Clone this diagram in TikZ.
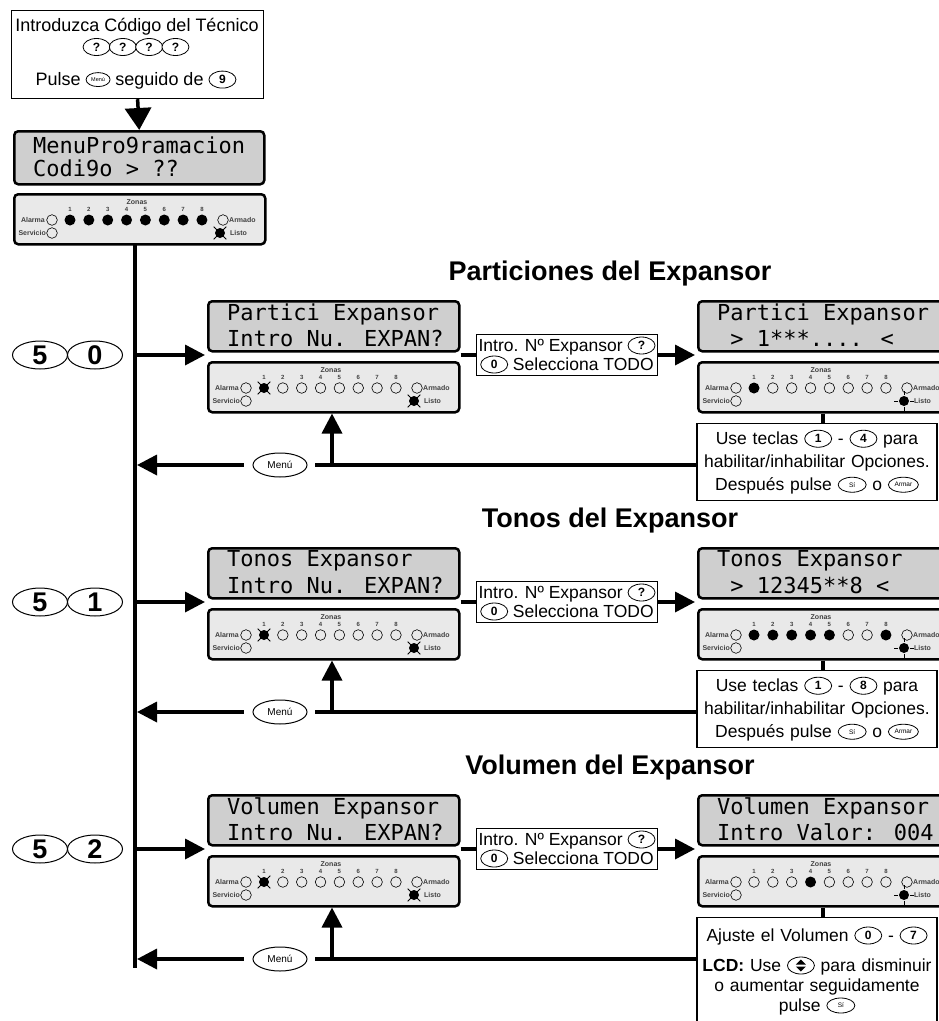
\documentclass[tikz,border=0pt]{standalone}
\usepackage{fontspec}
\setmainfont{Liberation Sans}
\setsansfont{Liberation Sans}
\newfontfamily\lcdfont{DejaVu Sans Mono}
\usetikzlibrary{arrows.meta,shapes.geometric,calc}

\tikzset{
  conn/.style={line width=3.5pt},
  arr/.style={line width=3.5pt,-{Triangle[length=20pt,width=20pt]}},
  bigarr/.style={line width=3.5pt,-{Triangle[length=22pt,width=26pt]}},
  lcdbox/.style={draw,line width=2.5pt,rounded corners=4pt,fill=gray!38},
  ledbox/.style={draw,line width=2.5pt,rounded corners=4pt,fill=gray!17},
  txtbox/.style={draw,line width=1.2pt,fill=white},
  keysh/.style={ellipse,draw,line width=0.8pt,fill=white,inner sep=0pt,minimum width=27pt,minimum height=17pt,font=\bfseries\fontsize{12}{12}\selectfont},
  bigkey/.style={ellipse,draw,line width=1pt,fill=white,inner sep=0pt,minimum width=55pt,minimum height=28pt,font=\bfseries\fontsize{27}{27}\selectfont},
  menukey/.style={ellipse,draw,line width=1pt,fill=white,inner sep=0pt,minimum width=54pt,minimum height=24pt,font=\fontsize{10}{10}\selectfont},
  lcdtext/.style={anchor=west,inner sep=0pt,font=\lcdfont\fontsize{22}{22}\selectfont},
  sectitle/.style={inner sep=0pt,font=\bfseries\fontsize{27}{27}\selectfont},
  bodytxt/.style={inner sep=0pt,font=\fontsize{17.5}{21}\selectfont},
  introtxt/.style={font=\fontsize{17.5}{19}\selectfont},
  ledlab/.style={inner sep=0pt,text=black!75,font=\bfseries\fontsize{7}{7}\selectfont},
}

\newcommand\dkey[1]{\tikz[x=1pt,y=1pt,baseline={([yshift=-6pt]K.center)}]\node[keysh] (K) {#1};}
\newcommand\skey[2][28]{\tikz[x=1pt,y=1pt,baseline={([yshift=-6pt]K.center)}]\node[keysh,minimum width=#1pt,minimum height=15pt,font=\fontsize{6.5}{6.5}\selectfont] (K) {#2};}
\newcommand\mkey{\tikz[x=1pt,y=1pt,baseline={([yshift=-6pt]K.center)}]\node[keysh,minimum width=24pt,minimum height=14pt,font=\fontsize{5.5}{5.5}\selectfont] (K) {Menú};}
\newcommand\udkey{\tikz[x=1pt,y=1pt,baseline={([yshift=-6pt]K.center)}]{\node[keysh] (K) {};
  \fill ([shift={(-5,1)}]K.center) -- ([shift={(5,1)}]K.center) -- ([shift={(0,6)}]K.center) -- cycle;
  \fill ([shift={(-5,-1)}]K.center) -- ([shift={(5,-1)}]K.center) -- ([shift={(0,-6)}]K.center) -- cycle;}}

\newcommand\drawLED[3]{%
  \if#1o\draw[line width=0.6pt] (#2,#3) circle (5.3pt);\fi
  \if#1f\fill (#2,#3) circle (5.5pt);\fi
  \if#1x\fill (#2,#3) circle (5pt);\foreach \a in {45,135,225,315}{\draw[line width=0.8pt,shift={(#2,#3)}] (\a:4pt) -- (\a:9pt);}\fi
  \if#1s\fill (#2,#3) circle (5pt);\foreach \a in {0,90,180,270}{\draw[line width=0.8pt,shift={(#2,#3)}] (\a:6pt) -- (\a:10pt);}\fi
}

\newcommand\LEDpanel[5]{%
  \node[ledbox,anchor=north west,minimum width=251pt,minimum height=50pt,inner sep=0pt] (#1) at (#2,#3) {};
  \pgfmathsetmacro\PX{#2}\pgfmathsetmacro\PY{#3}%
  \node[ledlab] (#1z) at (\PX+124,\PY+9) {Zonas};
  \node[ledlab,anchor=east] (#1al) at (\PX+32,\PY+27) {Alarma};
  \drawLED{o}{\PX+39}{\PY+27}
  \node[ledlab,anchor=west] (#1ar) at (\PX+216,\PY+27) {Armado};
  \drawLED{o}{\PX+210}{\PY+27}
  \node[ledlab,anchor=east] (#1sv) at (\PX+33,\PY+40) {Servicio};
  \drawLED{o}{\PX+39}{\PY+40}
  \node[ledlab,anchor=west] (#1ls) at (\PX+217,\PY+40) {Listo};
  \drawLED{#5}{\PX+207}{\PY+40}
  \foreach \s [count=\i] in {#4} {%
    \pgfmathsetmacro\LX{\PX+57+18.85*(\i-1)}%
    \node[ledlab,font=\bfseries\fontsize{6}{6}\selectfont] (#1n\i) at (\LX,\PY+16) {\i};
    \drawLED{\s}{\LX}{\PY+27}
  }%
}

\newcommand\DrawSection[8]{%
  \pgfmathsetmacro\Lb{#2}%
  \pgfmathsetmacro\Ltop{\Lb-50}%
  \pgfmathsetmacro\Ctop{\Lb-111}%
  \pgfmathsetmacro\Ya{\Lb-97}%
  \pgfmathsetmacro\Yb{\Lb-73}%
  \pgfmathsetmacro\Ym{\Lb-56}%
  \pgfmathsetmacro\Yt{\Lb-137}%
  \pgfmathsetmacro\Ymenu{\Lb+54}%
  \pgfmathsetmacro\Ytb{\Lb+12}%
  \node[sectitle] (#1title) at (610,\Yt) {#3};
  \node[lcdbox,anchor=north west,minimum width=251pt,minimum height=50pt,inner sep=0pt] (#1lcdL) at (207,\Ctop) {};
  \node[lcdtext] (#1lcdLa) at (227,\Ya) {#4};
  \node[lcdtext] (#1lcdLb) at (227,\Yb) {Intro Nu. EXPAN?};
  \node[lcdbox,anchor=north west,minimum width=251pt,minimum height=50pt,inner sep=0pt] (#1lcdR) at (697,\Ctop) {};
  \node[lcdtext] (#1lcdRa) at (717,\Ya) {#5};
  \node[lcdtext] (#1lcdRb) at (717,\Yb) {#6};
  \LEDpanel{#1ledL}{207}{\Ltop}{x,o,o,o,o,o,o,o}{x}
  \LEDpanel{#1ledR}{697}{\Ltop}{#7}{s}
  \node[bigkey] (#1kA) at (40,\Ym) {5};
  \node[bigkey] (#1kB) at (95,\Ym) {#8};
  \coordinate (#1m) at (135,\Ym);
  \coordinate (#1tipL) at (205,\Ym);
  \coordinate (#1tipR) at (695,\Ym);
  \draw[arr] (#1m) -- (#1tipL);
  \node[txtbox,introtxt,align=center,inner xsep=2pt,inner ysep=2pt] (#1intro) at (567,\Ym) {Intro. Nº Expansor \dkey{?}\\\dkey{0} Selecciona TODO};
  \draw[conn] (#1lcdL.east |- #1intro) -- (#1intro.west);
  \draw[arr] (#1intro.east) -- (#1tipR);
  \coordinate (#1vc) at (823,\Lb);
  \coordinate (#1tbtop) at (817,\Ytb);
  \coordinate (#1up) at (332,\Ymenu);
  \coordinate (#1ret) at (137,\Ymenu);
  \node[menukey] (#1menu) at (280,\Ymenu) {Menú};
}

\newcommand\ConnectSection[1]{%
  \draw[conn] (#1ledR.south -| #1vc) -- (#1tb.north -| #1vc);
  \draw[conn] (#1tb.west |- #1menu) -- ([xshift=7pt]#1menu.east);
  \draw[arr] ([xshift=-9pt]#1menu.west) -- (#1ret);
  \draw[arr] (#1up) -- (#1up |- #1ledL.south);
}

\begin{document}
\begin{tikzpicture}[x=1pt,y=-1pt]
\useasboundingbox (0,0) rectangle (939,1021);
\clip (0,0) rectangle (939,1021);

% main vertical line
\coordinate (mtop) at (135,243);
\coordinate (mbot) at (135,968);
\draw[conn] (mtop) -- (mbot);

% top block
\node[txtbox,anchor=north west,minimum width=252pt,minimum height=88pt,inner sep=0pt] (topbox) at (11,10) {};
\node[bodytxt,font=\fontsize{18}{18}\selectfont] (toptxt1) at (137,27) {Introduzca Código del Técnico};
\node[inner sep=0pt] (topkeys) at (136,47) {\dkey{?}\hspace{-1.5pt}\dkey{?}\hspace{-1.5pt}\dkey{?}\hspace{-1.5pt}\dkey{?}};
\node[bodytxt,font=\fontsize{18}{18}\selectfont] (toptxt2) at (136,80) {Pulse \mkey{} seguido de \dkey{9}};
\node[lcdbox,anchor=north west,minimum width=250pt,minimum height=53pt,inner sep=0pt] (lcd0) at (13,130) {};
\node[lcdtext] (lcd0a) at (33,145) {MenuPro9ramacion};
\node[lcdtext] (lcd0b) at (33,168) {Codi9o > ??};
\draw[bigarr] (topbox.south) -- (lcd0.north);
\LEDpanel{led0}{13}{193}{f,f,f,f,f,f,f,f}{x}

% sections
\DrawSection{sa}{411}{Particiones del Expansor}{Partici Expansor}{Partici Expansor}{\hphantom{>}> 1***.... <}{f,o,o,o,o,o,o,o}{0}
\node[txtbox,anchor=north,text width=234pt,align=center,minimum height=77pt,inner xsep=3pt,inner ysep=0pt,font=\fontsize{17.5}{23}\selectfont] (satb) at (satbtop) {Use teclas \dkey{1} - \dkey{4} para\\habilitar/inhabilitar Opciones.\\Después pulse \skey{Sí} o \skey[30]{Armar}};
\ConnectSection{sa}

\DrawSection{sb}{658}{Tonos del Expansor}{Tonos Expansor}{Tonos Expansor}{\hphantom{>}> 12345**8 <}{f,f,f,f,f,o,o,f}{1}
\node[txtbox,anchor=north,text width=234pt,align=center,minimum height=77pt,inner xsep=3pt,inner ysep=0pt,font=\fontsize{17.5}{23}\selectfont] (sbtb) at (sbtbtop) {Use teclas \dkey{1} - \dkey{8} para\\habilitar/inhabilitar Opciones.\\Después pulse \skey{Sí} o \skey[30]{Armar}};
\ConnectSection{sb}

\DrawSection{sc}{905}{Volumen del Expansor}{Volumen Expansor}{Volumen Expansor}{Intro Valor: 004}{o,o,o,f,o,o,o,o}{2}
\node[txtbox,anchor=north,text width=234pt,align=center,inner xsep=3pt,inner ysep=9pt,font=\fontsize{17.5}{20}\selectfont] (sctb) at (sctbtop) {Ajuste el Volumen \dkey{0} - \dkey{7}\\[10pt]\textbf{LCD:} Use \udkey{} para disminuir\\o aumentar seguidamente\\pulse \skey{Sí}\\[20pt]};
\ConnectSection{sc}
\end{tikzpicture}
\end{document}
